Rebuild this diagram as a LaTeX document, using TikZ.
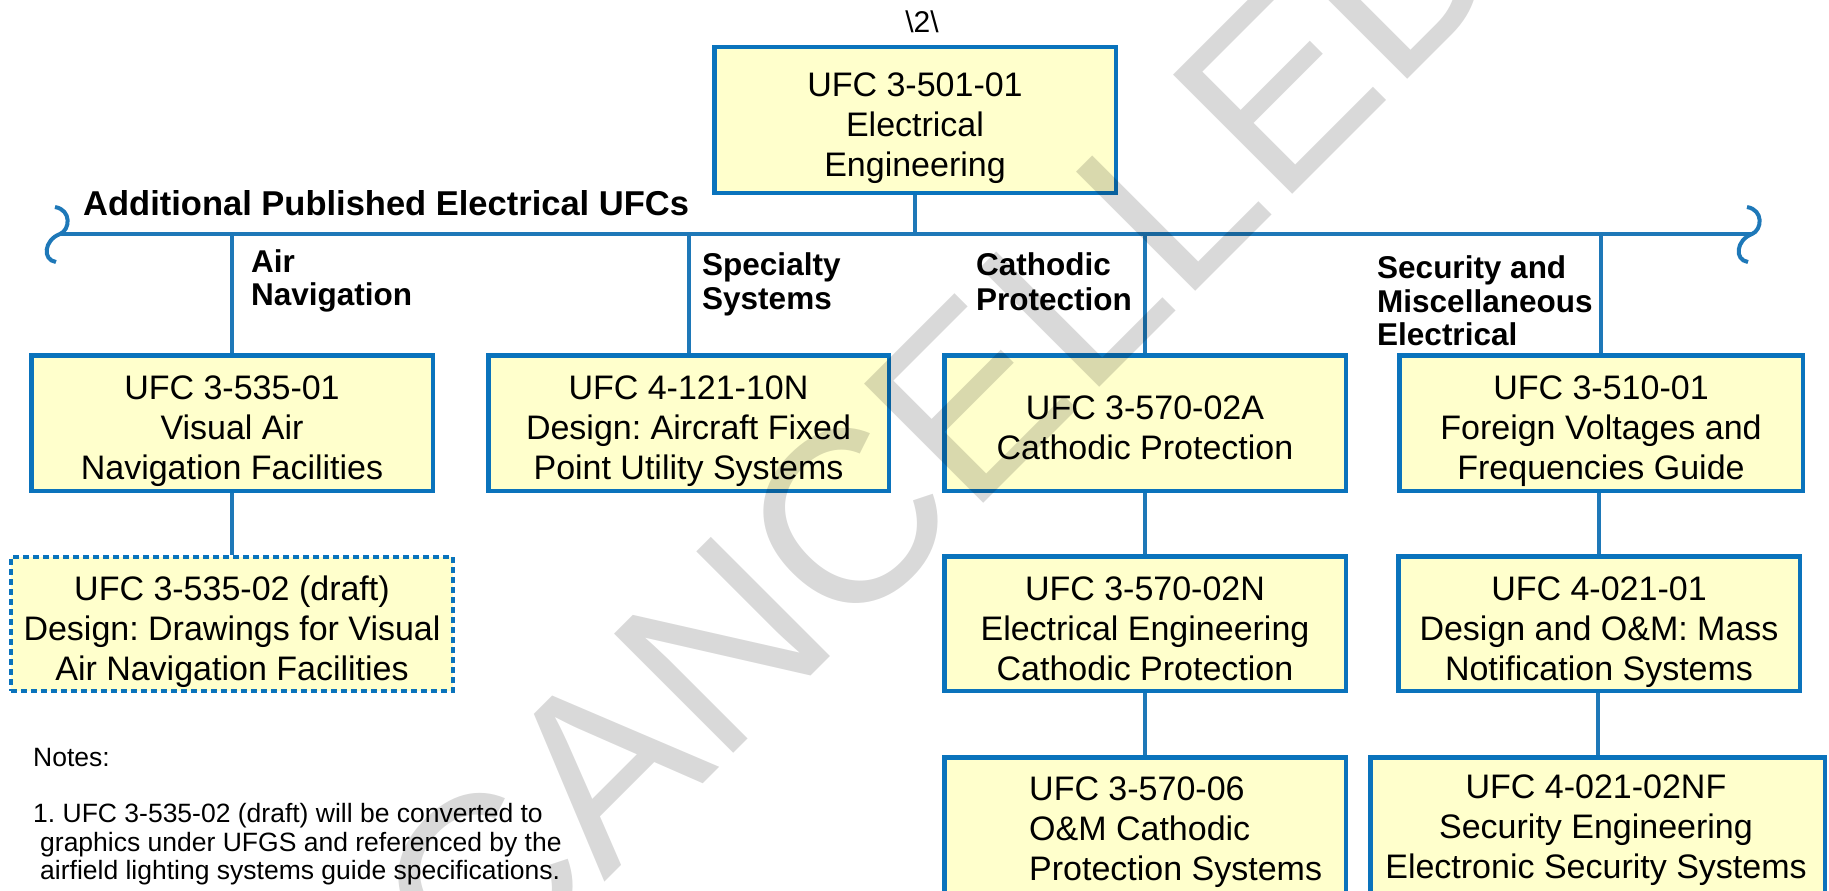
\documentclass[tikz,border=0pt]{standalone}
\usepackage{fontspec}
\setmainfont{Liberation Sans}
\usetikzlibrary{backgrounds}
\definecolor{ufcblue}{HTML}{0A73BC}
\definecolor{linkblue}{HTML}{1E78B8}
\definecolor{ufcyellow}{HTML}{FFFFCC}
\newcommand\fl{\rule{0pt}{33pt}}
\frenchspacing
\begin{document}
\begin{tikzpicture}[x=1pt,y=-1pt,
  ufcbox/.style={draw=ufcblue, fill=ufcyellow, line width=4.5pt, inner sep=0pt,
    align=center, font=\fontsize{34}{40}\selectfont},
  draftbox/.style={ufcbox, line width=4pt, dash pattern=on 6pt off 4pt},
  link/.style={draw=linkblue, line width=4pt},
  heading/.style={anchor=base west, inner sep=0pt, font=\fontsize{31.5}{34}\selectfont\bfseries},
  notetext/.style={anchor=base west, inner sep=0pt, font=\fontsize{26.5}{28}\selectfont},
  plaintext/.style={inner sep=0pt, font=\fontsize{34}{40}\selectfont},
]
\useasboundingbox (0,0) rectangle (1829,891);
\clip (0,0) rectangle (1829,891);

% coordinates of the bus
\coordinate (busL) at (60,234);
\coordinate (busR) at (1752,234);

% boxes
\node[ufcbox, minimum width=401.5pt, minimum height=145.5pt] (top) at (915,120)
  {\fl UFC 3-501-01\\Electrical\\\smash{Engineering}};
\node[ufcbox, minimum width=401.5pt, minimum height=135.5pt] (b1) at (232,423)
  {\fl UFC 3-535-01\\Visual Air\\\smash{Navigation Facilities}};
\node[ufcbox, minimum width=400.5pt, minimum height=135.5pt] (b2) at (688.5,423)
  {\fl UFC 4-121-10N\\Design: Aircraft Fixed\\\smash{Point Utility Systems}};
\node[ufcbox, minimum width=401.5pt, minimum height=135.5pt] (b3) at (1145,423)
  {\fl UFC 3-570-02A\\\smash{Cathodic Protection}};
\node[ufcbox, minimum width=403.5pt, minimum height=135.5pt] (b4) at (1601,423)
  {\fl UFC 3-510-01\\Foreign Voltages and\\\smash{Frequencies Guide}};
\node[draftbox, minimum width=442pt, minimum height=134pt] (draft) at (232,624)
  {\fl UFC 3-535-02 (draft)\\Design: Drawings for Visual\\\smash{Air Navigation Facilities}};
\node[ufcbox, minimum width=401.5pt, minimum height=134.5pt] (c3) at (1145,623.5)
  {\fl UFC 3-570-02N\\Electrical Engineering\\\smash{Cathodic Protection}};
\node[ufcbox, minimum width=401.5pt, minimum height=134.5pt] (c4) at (1599,623.5)
  {\fl UFC 4-021-01\\Design and O\&M: Mass\\\smash{Notification Systems}};
\node[ufcbox, minimum width=401.5pt, minimum height=145.5pt] (d3) at (1145,830) {};
\node[plaintext, align=left, anchor=west] (d3t) at (1029,823.5)
  {\fl UFC 3-570-06\\O\&M Cathodic\\\smash{Protection Systems}};
\node[ufcbox, minimum width=454.5pt, minimum height=145.5pt] (d4) at (1597.5,830) {};
\node[plaintext, align=center] (d4t) at (1596,822)
  {\fl UFC 4-021-02NF\\Security Engineering\\\smash{Electronic Security Systems}};

% connectors (behind the boxes)
\begin{scope}[on background layer]
\draw[link] (busL) -- (busR);
\draw[link] (top.south) -- (top.south |- busL);
\draw[link] (b1.north) -- (b1.north |- busL);
\draw[link] (b2.north) -- (b2.north |- busL);
\draw[link] (b3.north) -- (b3.north |- busL);
\draw[link] (b4.north) -- (b4.north |- busL);
\draw[link] (b1.south) -- (draft.north);
\draw[link] (b3.south) -- (c3.north);
\draw[link] (c4.north |- b4.south) -- (c4.north);
\draw[link] (c3.south) -- (d3.north);
\draw[link] (d4.north |- c4.south) -- (d4.north);
\end{scope}

% wavy break marks at both ends of the bus
\begin{scope}[shift={(busL)}]
  \draw[link] (-5,-27) .. controls (12,-24) and (10,-4) .. (0,0)
              .. controls (-16,6) and (-18,26) .. (-4,28);
\end{scope}
\begin{scope}[shift={(busR)}]
  \draw[link] (-5,-27) .. controls (12,-24) and (10,-4) .. (0,0)
              .. controls (-16,6) and (-18,26) .. (-4,28);
\end{scope}

% titles
\node[inner sep=0pt, anchor=base, font=\fontsize{30}{34}\selectfont] (rev) at (922,33)
  {\textbackslash 2\textbackslash};
\node[inner sep=0pt, anchor=base west, font=\fontsize{34.5}{38}\selectfont\bfseries] (hdr) at (83,215)
  {Additional Published Electrical UFCs};

% group headings
\node[heading] (h1a) at (251,272) {Air};
\node[heading] (h1b) at (251,305) {Navigation};
\node[heading] (h2a) at (702,275) {Specialty};
\node[heading] (h2b) at (702,309) {Systems};
\node[heading] (h3a) at (976,275) {Cathodic};
\node[heading] (h3b) at (976,310) {Protection};
\node[heading] (h4a) at (1377,278) {Security and};
\node[heading] (h4b) at (1377,312) {Miscellaneous};
\node[heading] (h4c) at (1377,345) {Electrical};

% notes
\node[notetext] (n0) at (33,766) {Notes:};
\node[notetext] (n1) at (33,822) {1. UFC 3-535-02 (draft) will be converted to};
\node[notetext] (n2) at (40,851) {graphics under UFGS and referenced by the};
\node[notetext] (n3) at (40,879) {airfield lighting systems guide specifications.};

% watermark
\node[anchor=base west, rotate=45, inner sep=0pt, text=black, text opacity=0.15,
  font=\fontsize{245}{245}\selectfont] (wm) at (479,1008) {CANCELLED};
\end{tikzpicture}
\end{document}
